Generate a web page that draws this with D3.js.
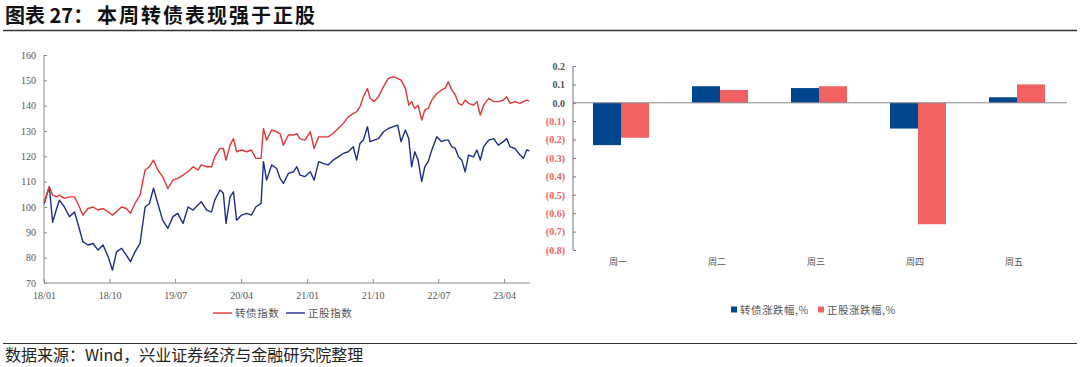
<!DOCTYPE html>
<html>
<head>
<meta charset="utf-8">
<script src="https://cdn.jsdelivr.net/npm/d3@7"></script>
<style>
html,body{margin:0;padding:0;background:#fff;}
svg{display:block;}
</style>
</head>
<body>
<svg id="chart" width="1080" height="367"></svg>
<script>
// ---------- DATA ----------
const dates = [
"2018-01-02","2018-01-23","2018-02-06","2018-02-23","2018-03-06","2018-03-27","2018-04-17","2018-05-08","2018-05-22","2018-06-12",
"2018-07-03","2018-07-24","2018-08-14","2018-09-04","2018-09-25","2018-10-13","2018-10-30","2018-11-20","2018-12-10","2018-12-27",
"2019-01-15","2019-02-05","2019-02-26","2019-03-16","2019-04-02","2019-04-20","2019-05-10","2019-06-01","2019-06-22","2019-07-12",
"2019-08-03","2019-08-24","2019-09-14","2019-10-04","2019-10-18","2019-11-09","2019-11-30","2019-12-13","2020-01-04","2020-01-18",
"2020-01-29","2020-02-15","2020-02-29","2020-03-13","2020-04-03","2020-04-24","2020-05-14","2020-06-01","2020-06-23","2020-07-03",
"2020-07-16","2020-08-06","2020-08-27","2020-09-10","2020-09-24","2020-10-15","2020-11-05","2020-11-19","2020-12-02","2020-12-23",
"2021-01-14","2021-01-30","2021-02-18","2021-03-08","2021-03-29","2021-04-19","2021-05-10","2021-06-01","2021-06-21","2021-07-12",
"2021-07-26","2021-08-09","2021-08-23","2021-09-09","2021-09-20","2021-10-07","2021-10-25","2021-11-15","2021-12-05","2021-12-26",
"2022-01-13","2022-01-27","2022-02-14","2022-02-28","2022-03-12","2022-03-25","2022-04-08","2022-04-23","2022-05-06","2022-05-20",
"2022-06-04","2022-06-25","2022-07-15","2022-07-29","2022-08-12","2022-08-26","2022-09-10","2022-09-23","2022-10-07","2022-10-21",
"2022-11-04","2022-11-25","2022-12-09","2022-12-23","2023-01-06","2023-01-27","2023-02-17","2023-03-08","2023-03-29","2023-04-12",
"2023-04-26","2023-05-16","2023-06-07","2023-06-21","2023-07-04","2023-07-15"
];
const cbIndex = [
102,108,104.7,104,104.7,103.4,104,104,101.4,96.8,
99.4,100,98.8,99.4,98.1,96.8,98.1,100,99.4,97.5,
101.4,104.7,114.6,115.9,118.5,114.6,112,107.3,110.6,111.3,
112.6,113.9,115.9,114.6,116.6,115.9,115.9,119.8,123.1,123.1,
118.5,124.4,127,121.8,122.5,121.8,122.5,119.2,119.2,131,
126.4,130.4,129.7,129,124.4,128.4,128.4,129,127,126.4,
129.7,123.1,127.7,127.7,127.7,129,131,133,135.6,136.9,
137.6,139.6,143.5,146.8,142.9,141.6,143.5,147.5,150.8,151.4,
150.8,150.1,146.8,140.2,141.6,138.9,140.2,134.3,138.3,138.9,
142.2,144.8,146.2,146.8,149.4,146.2,144.2,140.9,140.2,142.2,
140.9,140.2,141.6,136.3,140.2,142.9,141.6,141.6,142.2,143.5,
140.9,141.6,140.9,141.6,142.2,141.8
];
const stockIndex = [
101.4,108,94,99.5,102.7,100,96.2,98,93.5,86.3,
85,85.6,83,85,80.4,75.1,82.3,83.7,81,78.4,
82.3,85.6,100,101.4,107.4,101.4,94.8,91.6,96.2,97.5,
93.5,100,98.8,100.8,102.1,98.8,98.1,102.7,106.7,105.4,
93.5,104,106,94.8,96.8,97.5,96.8,100,101.4,117.9,
110.6,116.6,115.2,111.3,109.3,113.3,113.9,115.9,112.6,112,
113.9,110.6,117.9,117.2,116.6,118.5,119.8,121.2,121.8,123.8,
118.5,125.1,126.4,131.7,125.8,126.4,127,129.7,131,131.7,
132.3,125.8,130.4,127,115.9,121.8,118.5,110,115.9,117.9,
122.5,127.7,125.8,126.4,126.4,123.8,123.1,119.8,118.5,113.9,
120.5,119.8,122.5,118.5,123.8,126.4,127,124.4,125.8,127,
123.8,123.1,120.5,119.2,122.5,122.2
];
const lineSeriesNames = ["转债指数","正股指数"];
const xTickLabels = ["18/01","18/10","19/07","20/04","21/01","21/10","22/07","23/04"];
const yTicksLeft = [70,80,90,100,110,120,130,140,150,160];

const days = ["周一","周二","周三","周四","周五"];
const barSeriesNames = ["转债涨跌幅,%","正股涨跌幅,%"];
const cbChange = [-0.23, 0.09, 0.08, -0.14, 0.03];
const stockChange = [-0.19, 0.07, 0.09, -0.66, 0.10];
const yTicksRight = [0.2,0.1,0.0,-0.1,-0.2,-0.3,-0.4,-0.5,-0.6,-0.7,-0.8];

const titleLead = "图表 27：";
const titleMain = "本周转债表现强于正股";
const sourceText = "数据来源：Wind，兴业证券经济与金融研究院整理";

// ---------- STYLE ----------
const SERIF = "'Liberation Serif','Times New Roman',serif";
const CJK = "'Noto Sans CJK SC','Noto Sans',sans-serif";
const RED_LINE = "#E03636", BLUE_LINE = "#1C2D8C";
const BLUE_BAR = "#00468F", RED_BAR = "#F06262";
const AXIS = "#8c8c8c", TXT = "#555";

const svg = d3.select("#chart");
svg.append("rect").attr("width",1080).attr("height",367).attr("fill","#fff");

// title
svg.append("text").attr("x",5).attr("y",23).attr("font-family",CJK).attr("font-weight","bold")
  .attr("font-size",20).attr("fill","#111").text(titleLead);
svg.append("text").attr("x",97).attr("y",23).attr("font-family",CJK).attr("font-weight","bold")
  .attr("font-size",20).attr("fill","#111").attr("textLength",218).attr("lengthAdjust","spacing").text(titleMain);
svg.append("line").attr("x1",3).attr("x2",1077).attr("y1",30.5).attr("y2",30.5).attr("stroke","#333").attr("stroke-width",1.6);

// footer
svg.append("line").attr("x1",3).attr("x2",1077).attr("y1",343.5).attr("y2",343.5).attr("stroke","#333").attr("stroke-width",1.2);
svg.append("text").attr("x",5).attr("y",361).attr("font-family",CJK).attr("font-size",16).attr("fill","#222").text(sourceText);

// ---------- LEFT LINE CHART ----------
const parse = d3.timeParse("%Y-%m-%d");
const tDates = dates.map(parse);
const xL = d3.scaleTime().domain([new Date(2018,0,1), new Date(2023,6,18)]).range([44,530]);
const yL = d3.scaleLinear().domain([70,160]).range([283,55]);
const tickDates = xTickLabels.map(s => new Date(2000 + +s.slice(0,2), +s.slice(3)-1, 1));

const gL = svg.append("g");
const xAxisL = d3.axisBottom(xL).tickValues(tickDates).tickSize(-4).tickFormat((d,i)=>xTickLabels[i]);
const gx = gL.append("g").attr("transform","translate(0,283)").call(xAxisL);
gx.select(".domain").attr("stroke",AXIS).attr("d","M44,0H530");
gx.selectAll(".tick line").attr("stroke",AXIS);
gx.selectAll(".tick text").attr("font-family",SERIF).attr("font-size",10).attr("fill",TXT).attr("dy","1.3em");

const yAxisL = d3.axisLeft(yL).tickValues(yTicksLeft).tickSize(-3).tickPadding(8);
const gy = gL.append("g").attr("transform","translate(44,0)").call(yAxisL);
gy.select(".domain").attr("stroke",AXIS).attr("d","M0,55V283");
gy.selectAll(".tick line").attr("stroke",AXIS);
gy.selectAll(".tick text").attr("font-family",SERIF).attr("font-size",10).attr("fill",TXT);

const lineGen = d3.line().x((d,i)=>xL(tDates[i])).y(d=>yL(d));
gL.append("path").datum(stockIndex).attr("d",lineGen).attr("fill","none").attr("stroke",BLUE_LINE).attr("stroke-width",1.4).attr("stroke-linejoin","round");
gL.append("path").datum(cbIndex).attr("d",lineGen).attr("fill","none").attr("stroke",RED_LINE).attr("stroke-width",1.4).attr("stroke-linejoin","round");

// left legend
const legL = gL.append("g").attr("transform","translate(0,313)");
const legLX = [213, 286];
[RED_LINE, BLUE_LINE].forEach((c,i)=>{
  legL.append("line").attr("x1",legLX[i]).attr("x2",legLX[i]+19).attr("y1",0).attr("y2",0).attr("stroke",c).attr("stroke-width",1.4);
  legL.append("text").attr("x",legLX[i]+22).attr("y",4).attr("font-family",CJK).attr("font-size",10.5).attr("fill",TXT)
    .attr("letter-spacing",0.6).text(lineSeriesNames[i]);
});

// ---------- RIGHT BAR CHART ----------
const xR = d3.scaleBand().domain(days).range([571.5,1066.5]).paddingInner(0.434).paddingOuter(0.217);
const xSub = d3.scaleBand().domain([0,1]).range([0,xR.bandwidth()]);
const yR = d3.scaleLinear().domain([-0.8,0.2]).range([250,66]);
const gR = svg.append("g");

const yAxisR = d3.axisLeft(yR).tickValues(yTicksRight).tickSize(-3).tickPadding(8)
  .tickFormat(v => v >= -1e-9 ? Math.abs(v).toFixed(1) : "(" + (-v).toFixed(1) + ")");
const gyR = gR.append("g").attr("transform","translate(573,0)").call(yAxisR);
gyR.select(".domain").attr("stroke","#777").attr("d","M0,66V250");
gyR.selectAll(".tick line").attr("stroke","#777");
gyR.selectAll(".tick text").attr("font-family",SERIF).attr("font-size",10).attr("font-weight","bold")
  .attr("fill",d => d < -1e-9 ? RED_BAR : TXT);

const seriesVals = [cbChange, stockChange];
const barColors = [BLUE_BAR, RED_BAR];
seriesVals.forEach((vals,s)=>{
  gR.append("g").selectAll("rect").data(vals).join("rect")
    .attr("x",(d,i)=>xR(days[i]) + xSub(s))
    .attr("width",xSub.bandwidth())
    .attr("y",d=>yR(Math.max(0,d)))
    .attr("height",d=>Math.abs(yR(d)-yR(0)))
    .attr("fill",barColors[s]);
});
// zero line
gR.append("line").attr("x1",573).attr("x2",1067).attr("y1",yR(0)).attr("y2",yR(0)).attr("stroke","#888").attr("stroke-width",1);

// category labels
gR.append("g").selectAll("text").data(days).join("text")
  .attr("x",d=>xR(d)+xR.bandwidth()/2 - 3).attr("y",265).attr("text-anchor","middle")
  .attr("font-family",CJK).attr("font-size",9).attr("fill",TXT).text(d=>d);

// right legend
const legR = gR.append("g").attr("transform","translate(0,310)");
const legRX = [731, 818];
barColors.forEach((c,i)=>{
  legR.append("rect").attr("x",legRX[i]).attr("y",-3.5).attr("width",6).attr("height",6).attr("fill",c);
  legR.append("text").attr("x",legRX[i]+9).attr("y",3.5).attr("font-family",CJK).attr("font-size",10.5).attr("fill",TXT)
    .attr("letter-spacing",0.5).text(barSeriesNames[i]);
});
</script>
</body>
</html>
